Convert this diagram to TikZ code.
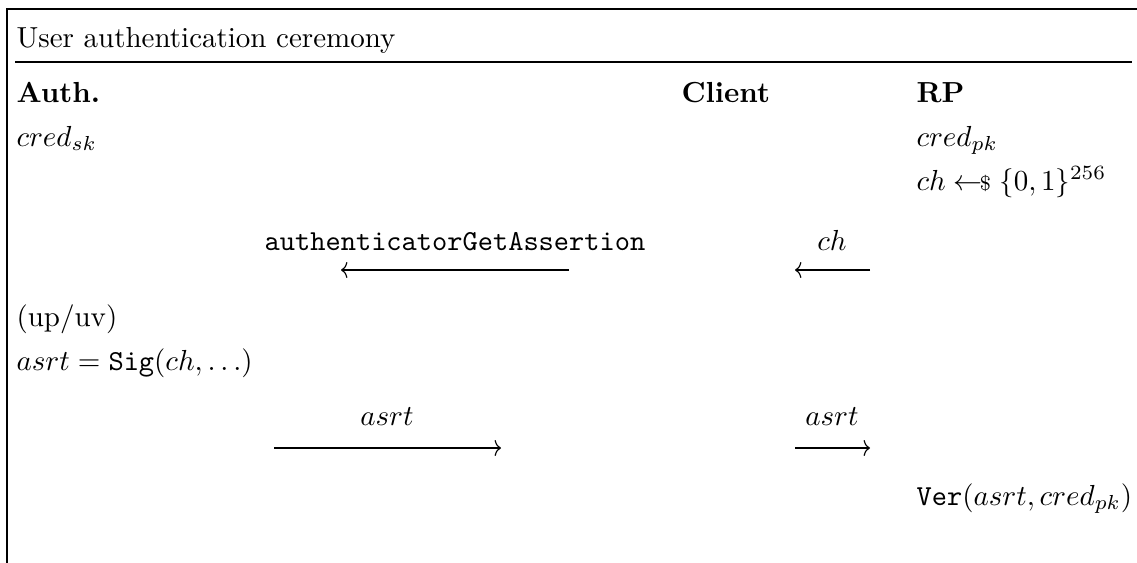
\documentclass[tikz,border=0pt]{standalone}
\usetikzlibrary{arrows.meta}
\newcommand{\smpl}{\mathrel{\leftarrow\mkern-7mu{\scriptstyle\$}}}
\begin{document}
\begin{tikzpicture}[x=0.3448pt,y=-0.3448pt,
  txt/.style={inner sep=0pt,anchor=base west},
  lbl/.style={inner sep=0pt,anchor=base},
  frame/.style={line width=0.4pt,black},
  msg/.style={line width=0.4pt,-{To[length=2.2pt,width=5.5pt]}}]
\useasboundingbox (0,0) rectangle (1137,563);
\draw[frame] (7,563) -- (7,9) -- (1137,9);
\draw[frame] (15,62) -- (1132,62);
\node[txt] (title) at (16,47) {User authentication ceremony};
\node[txt] (auth) at (16,102) {\textbf{Auth.}};
\node[txt] (client) at (681,102) {\textbf{Client}};
\node[txt] (rp) at (916,102) {\textbf{RP}};
\node[txt] (credsk) at (16,146) {$cred_{sk}$};
\node[txt] (credpk) at (916,146) {$cred_{pk}$};
\node[txt] (chal) at (916,190) {$ch \smpl \{0,1\}^{256}$};
% message 1
\node[lbl] (m1) at (455,250) {\texttt{authenticatorGetAssertion}};
\coordinate (m1s) at (569,270);
\coordinate (m1e) at (341,270);
\draw[msg] (m1s) -- (m1e);
% message 2
\node[lbl] (m2) at (832,250) {$ch$};
\coordinate (m2s) at (870,270);
\coordinate (m2e) at (795,270);
\draw[msg] (m2s) -- (m2e);
\node[txt] (upuv) at (16,326) {(up/uv)};
\node[txt] (sig) at (16,370) {$asrt = \mathtt{Sig}(ch, \ldots)$};
% message 3
\node[lbl] (m3) at (387,425) {$asrt$};
\coordinate (m3s) at (274,448);
\coordinate (m3e) at (501,448);
\draw[msg] (m3s) -- (m3e);
% message 4
\node[lbl] (m4) at (832,425) {$asrt$};
\coordinate (m4s) at (795,448);
\coordinate (m4e) at (870,448);
\draw[msg] (m4s) -- (m4e);
\node[txt] (ver) at (916,505) {$\mathtt{Ver}(asrt, cred_{pk})$};
\end{tikzpicture}
\end{document}
